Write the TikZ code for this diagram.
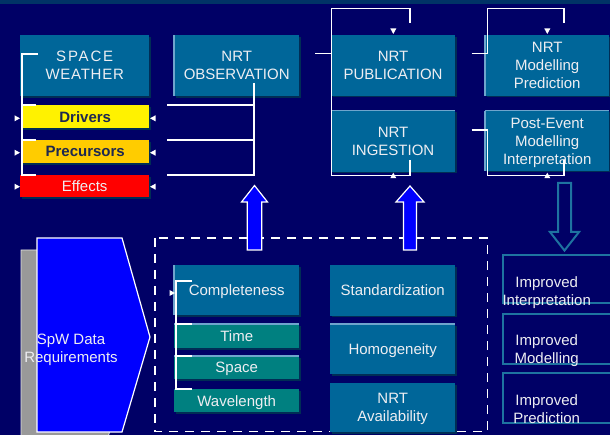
\documentclass[tikz,border=0pt]{standalone}
\usepackage{fontspec}
\setmainfont{Liberation Sans}
\usetikzlibrary{calc,shadows}
\definecolor{navy}{RGB}{0,0,102}
\definecolor{band}{RGB}{0,51,102}
\definecolor{teal1}{RGB}{0,102,153}
\definecolor{teal2}{RGB}{0,128,128}
\definecolor{shade}{RGB}{0,45,85}
\definecolor{lite}{RGB}{110,165,205}
\definecolor{ink}{RGB}{238,238,242}
\definecolor{dark}{RGB}{30,40,80}
\definecolor{gold}{RGB}{255,204,0}
\definecolor{edge}{RGB}{30,115,160}
\definecolor{greyblock}{RGB}{153,153,153}
\begin{document}
\begin{tikzpicture}[x=1pt,y=-1pt,
  txt/.style={font=\fontsize{15}{18}\selectfont, text=ink, align=center},
  sz/.style 2 args={minimum width=#1pt, minimum height=#2pt},
  box/.style={txt, anchor=north west, inner sep=0pt, fill=teal1, text depth=0pt,
    general shadow={fill=shade, shadow xshift=1.6pt, shadow yshift=-1.6pt}},
  boldtxt/.style={font=\fontsize{15}{18}\selectfont\bfseries, text=dark},
  litline/.style={draw=lite, line width=1.2pt},
  littop/.style={append after command={(\tikzlastnode.north west) edge[litline] (\tikzlastnode.north east)}},
  litleft/.style={append after command={(\tikzlastnode.north west) edge[litline] (\tikzlastnode.south west)}},
  impbox/.style={anchor=north west, draw=edge, line width=2pt, inner sep=0pt},
  wire/.style={draw=white, line width=1.3pt},
  blockup/.style={fill=blue, draw=white, line width=1.2pt, line join=miter},
  tipmark/.pic={\fill[white] (0,0) -- (-5.5,-3) -- (-5.5,3) -- cycle;},
]
\useasboundingbox (0,0) rectangle (610,435);
\clip (0,0) rectangle (610,435);

% background and title band
\fill[navy] (0,0) rectangle (610,435);
\fill[band] (0,0) rectangle (610,4);

% dashed frame around the data qualities
\draw[white, line width=1.5pt, dash pattern=on 9pt off 7pt] (155,238) rectangle (487.7,431.7);

% space weather stack
\node[box, sz={129}{61}] (sw) at (20,35)
  {{\addfontfeature{LetterSpace=12}SPACE}\\{\addfontfeature{LetterSpace=5}WEATHER}};
\node[box, sz={128}{23}, fill=yellow, boldtxt] (drv) at (21,105) {Drivers};
\node[box, sz={128}{23}, fill=gold, boldtxt] (pre) at (21,140) {Precursors};
\node[box, sz={129}{22}, fill=red] (eff) at (20,175) {Effects};

% processing chain
\node[box, sz={125}{61}, litleft] (obs) at (174,35) {NRT\\OBSERVATION};
\node[box, sz={124.3}{60.7}] (pub) at (330.7,35) {NRT\\PUBLICATION};
\node[box, sz={124.3}{61}, littop] (ing) at (330.7,110.7) {NRT\\INGESTION};
\node[box, sz={124}{60.7}, litleft] (mod) at (485,35) {NRT\\Modelling\\Prediction};
\node[box, sz={124}{60}, littop, litleft] (post) at (485,110.7) {Post-Event\\Modelling\\Interpretation};

% data qualities
\node[box, sz={125}{50}, litleft] (comp) at (174,265) {Completeness};
\node[box, sz={125}{24}, fill=teal2, littop] (time) at (174,324) {Time};
\node[box, sz={125}{23}, fill=teal2, littop] (space) at (174,356) {Space};
\node[box, sz={125}{23}, fill=teal2] (wave) at (174,389) {Wavelength};
\node[box, sz={125}{50.7}] (std) at (330,265) {Standardization};
\node[box, sz={125}{50}, littop] (hom) at (330,324) {Homogeneity};
\node[box, sz={125}{49}] (avail) at (330,383) {NRT\\Availability};

% outcomes
\node[impbox, sz={115}{47.7}] (imp1) at (501.7,254) {};
\node[impbox, sz={115}{50}] (imp2) at (501.7,312.7) {};
\node[impbox, sz={115}{50}] (imp3) at (501.7,371.7) {};
\node[txt] (imp1t) at (546.7,293) {Improved\\Interpretation};
\node[txt] (imp2t) at (546.7,350.3) {Improved\\Modelling};
\node[txt] (imp3t) at (546.7,409.3) {Improved\\Prediction};

% requirements block with its grey extrusion
\draw[fill=greyblock, draw=white!80!gray, line width=0.8pt]
  (21,250) -- (106,250) -- (134,349) -- (106,444) -- (21,444) -- cycle;
\draw[fill=blue, draw=white, line width=1.2pt, line join=miter]
  (37,238) -- (122,238) -- (150,337) -- (122,432) -- (37,432) -- cycle;
\node[txt] (spw) at (71,349.5) {SpW Data\\Requirements};

% block arrows
\draw[blockup] (247.3,250) -- (247.3,202) -- (241.5,202) -- (254.5,185.5)
  -- (267.5,202) -- (261.7,202) -- (261.7,250) -- cycle;
\draw[blockup] (403.5,250) -- (403.5,202) -- (396,202) -- (410,186)
  -- (424,202) -- (416.5,202) -- (416.5,250) -- cycle;
\draw[draw=edge, fill=navy, line width=2pt, line join=miter]
  (558,183) -- (571,183) -- (571,232) -- (579,232) -- (564.5,250.5)
  -- (550,232) -- (558,232) -- cycle;

% bracket binding the space weather stack
\coordinate (lsp) at (22,54);
\draw[wire] (38,54) -- (lsp) -- (lsp |- eff.north) -- ++(14,0);
\draw[wire] (lsp |- drv.north) -- ++(14,0);
\draw[wire] (lsp |- pre.north) -- ++(14,0);

% bracket from the observation box
\coordinate (otap) at (254,83);
\draw[wire] (otap) -- (otap |- eff.north) -- ++(-87,0);
\draw[wire] (otap |- drv.north) -- ++(-87,0);
\draw[wire] (otap |- pre.north) -- ++(-87,0);

% publication / ingestion loop
\coordinate (pl) at (331.7,8.3);
\draw[wire] (315,53.3) -- (331.7,53.3);
\draw[wire] (410,22.7) |- (pl) -- (331.7,175.7) -| (410,160);

% modelling loops
\draw[wire] (471.7,53.3) -- (487.7,53.3) |- (564,8.3) -- (564,22.7);
\draw[wire] (471.7,130) -- (487.7,130) |- (564,175.7) -- (564,160);

% bracket binding the completeness group
\coordinate (csp) at (176,281);
\draw[wire] (192,281) -- (csp) -- (csp |- wave.north) -- ++(16,0);
\draw[wire] (csp |- time.north) -- ++(16,0);
\draw[wire] (csp |- space.north) -- ++(16,0);

% small arrow tips
\foreach \yy in {118.3,152.7,186.7} {
  \pic at (20,\yy) {tipmark};
  \pic[rotate=180] at (150,\yy) {tipmark};
}
\pic at (175,293) {tipmark};
\pic[rotate=-90] at (393.3,34) {tipmark};
\pic[rotate=-90] at (547.3,34) {tipmark};
\pic[rotate=90] at (393.3,172.7) {tipmark};
\pic[rotate=90] at (547.3,172.7) {tipmark};
\end{tikzpicture}
\end{document}
